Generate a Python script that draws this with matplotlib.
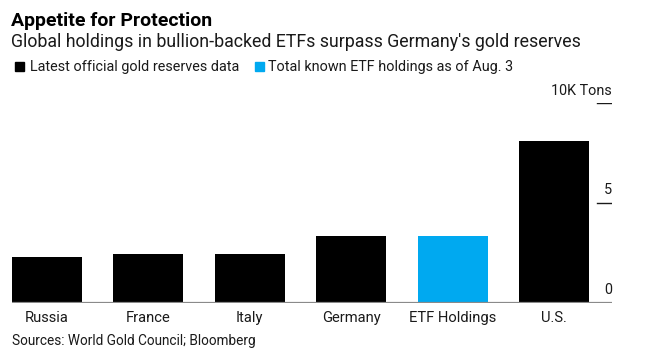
import matplotlib
matplotlib.use("Agg")
import matplotlib.pyplot as plt
import matplotlib.transforms as mtransforms

# data (thousand tons)
countries = ["Russia", "France", "Italy", "Germany", "ETF Holdings", "U.S."]
holdings = [2.30, 2.45, 2.45, 3.36, 3.36, 8.13]
is_etf = [False, False, False, False, True, False]
y_ticks = [0, 5, 10]
y_tick_labels = ["0", "5", "10K Tons"]

title = "Appetite for Protection"
subtitle = "Global holdings in bullion-backed ETFs surpass Germany's gold reserves"
legend_labels = ["Latest official gold reserves data", "Total known ETF holdings as of Aug. 3"]
source = "Sources: World Gold Council; Bloomberg"

BLACK = "#000000"
BLUE = "#00A9F0"
GREY = "#8a8a8a"
TEXT = "#1a1a1a"

W, H = 645, 352
plt.rcParams["font.family"] = ["Roboto", "DejaVu Sans"]

fig = plt.figure(figsize=(W / 100, H / 100), dpi=100)
ax = fig.add_axes([12 / W, 1 - 302.5 / H, 600 / W, 199.2 / H])


def px(x, y):
    return x / W, 1 - y / H


colors = [BLUE if e else BLACK for e in is_etf]
ax.bar(range(len(countries)), holdings, width=0.69, color=colors, zorder=2)
ax.set_xlim(-0.345, 5.57)
ax.set_ylim(0, 10)
ax.axis("off")

# baseline and short tick marks on the right
ax.axhline(0, color=GREY, lw=1.6, zorder=3)
for t in y_ticks[1:]:
    ax.axhline(t, xmin=0.975, xmax=1.0, color=TEXT, lw=1.0)

# tick labels sit just above their tick lines
trans = mtransforms.blended_transform_factory(ax.transAxes, ax.transData)
off = mtransforms.offset_copy(trans, fig=fig, x=0, y=8.5, units="dots")
for t, lab in zip(y_ticks, y_tick_labels):
    ax.text(1.0, t, lab, transform=off, ha="right", va="baseline",
            fontsize=10.4, color=TEXT)

# category labels
lab_off = mtransforms.offset_copy(ax.transData, fig=fig, x=0, y=-19.5, units="dots")
for i, c in enumerate(countries):
    ax.text(i, 0, c, transform=lab_off, ha="center", va="baseline",
            fontsize=10.6, color=TEXT)

# header
fig.text(*px(11, 26), title, fontsize=14, fontweight="bold", color=BLACK, va="baseline")
fig.text(*px(11, 46.7), subtitle, fontsize=12.8, color=TEXT, va="baseline")

# legend
fig.patches.append(plt.Rectangle(px(15, 71), 9 / W, 9 / H, transform=fig.transFigure,
                                 color=BLACK, figure=fig))
fig.text(*px(29.5, 71), legend_labels[0], fontsize=10.4, color=TEXT, va="baseline")
fig.patches.append(plt.Rectangle(px(255, 71), 8.5 / W, 9 / H, transform=fig.transFigure,
                                 color=BLUE, figure=fig))
fig.text(*px(268, 71), legend_labels[1], fontsize=10.4, color=TEXT, va="baseline")

fig.text(*px(12, 345), source, fontsize=9.8, color=TEXT, va="baseline")

fig.savefig("out.png", dpi=100)
